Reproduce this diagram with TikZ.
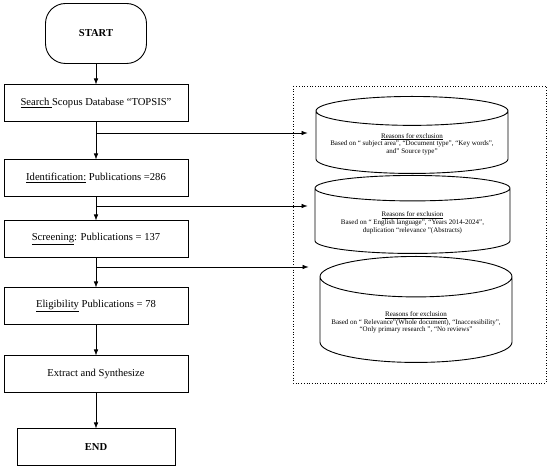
\documentclass[tikz,border=0pt]{standalone}
\usepackage{fontspec}
\setmainfont{Liberation Serif}
\usetikzlibrary{arrows.meta,positioning,shapes.geometric}

\begin{document}
\begin{tikzpicture}[x=1pt,y=-1pt]
	% one unit is one pixel of the reference, y going down
	\tikzset{box/.style={draw,line width=0.9pt,outer sep=0pt,minimum width=184pt,minimum height=37pt,font=\fontsize{10.6}{13}\selectfont},
		reason/.style={draw,line width=0.9pt,cylinder,shape border rotate=90,aspect=0.17,anchor=north,align=center,font=\fontsize{7}{7.8}\selectfont},
		link/.style={-{Latex[length=6pt,width=4.5pt]},line width=0.6pt},
	}
	\useasboundingbox (0,0) rectangle (550,470);
	% main column
	\node[draw,line width=0.9pt,outer sep=0pt,rounded corners=20pt,minimum width=101pt,minimum height=60pt,font=\fontsize{10.6}{13}\selectfont\bfseries] (start) at (96,33.5) {START};
	\node[box,below=21pt of start] (search) {\underline{Search\ }Scopus Database “TOPSIS”};
	\node[box,below=38pt of search] (ident) {\underline{Identification:} Publications =286};
	\node[box,below=24pt of ident] (screen) {\underline{Screening}: Publications = 137};
	\node[box,below=30pt of screen] (elig) {\underline{Eligibility} Publications = 78};
	\node[box,below=31pt of elig] (extract) {Extract and Synthesize};
	\node[box,minimum width=158pt,below=36pt of extract,font=\fontsize{10.6}{13}\selectfont\bfseries] (end) {END};
	% the dotted frame round the reasons
	\draw[dotted,line width=0.7pt] (293,86) rectangle (546,383);
	\node[reason,minimum width=192pt,minimum height=77pt] (cyl1) at (412,96) {\underline{Reasons for exclusion}\\Based on “ subject area”, “Document type”, “Key words”,\\and” Source type”};
	\node[reason,minimum width=195pt,minimum height=78pt] (cyl2) at (412.5,175) {\underline{Reasons for exclusion}\\Based on “ English language”, “Years 2014-2024”,\\duplication “relevance ”(Abstracts)};
	\node[reason,minimum width=192pt,minimum height=106pt,aspect=0.23] (cyl3) at (416,256) {\underline{Reasons for exclusion}\\Based on “ Relevance”(Whole document), “Inaccessibility”,\\“Only primary research ”, “No reviews”};
	% branch points on the main arrows
	\coordinate (b1) at (96,133);
	\coordinate (b2) at (96,206);
	\coordinate (b3) at (96,267);
	\draw[link] (start) -- (search);
	\draw[link] (search) -- (ident);
	\draw[link] (ident) -- (screen);
	\draw[link] (screen) -- (elig);
	\draw[link] (elig) -- (extract);
	\draw[link] (extract) -- (end);
	\draw[link,shorten >=8pt] (b1) -- (b1 -| cyl1.west);
	\draw[link,shorten >=7pt] (b2) -- (b2 -| cyl2.west);
	\draw[link,shorten >=11pt] (b3) -- (b3 -| cyl3.west);
\end{tikzpicture}
\end{document}
